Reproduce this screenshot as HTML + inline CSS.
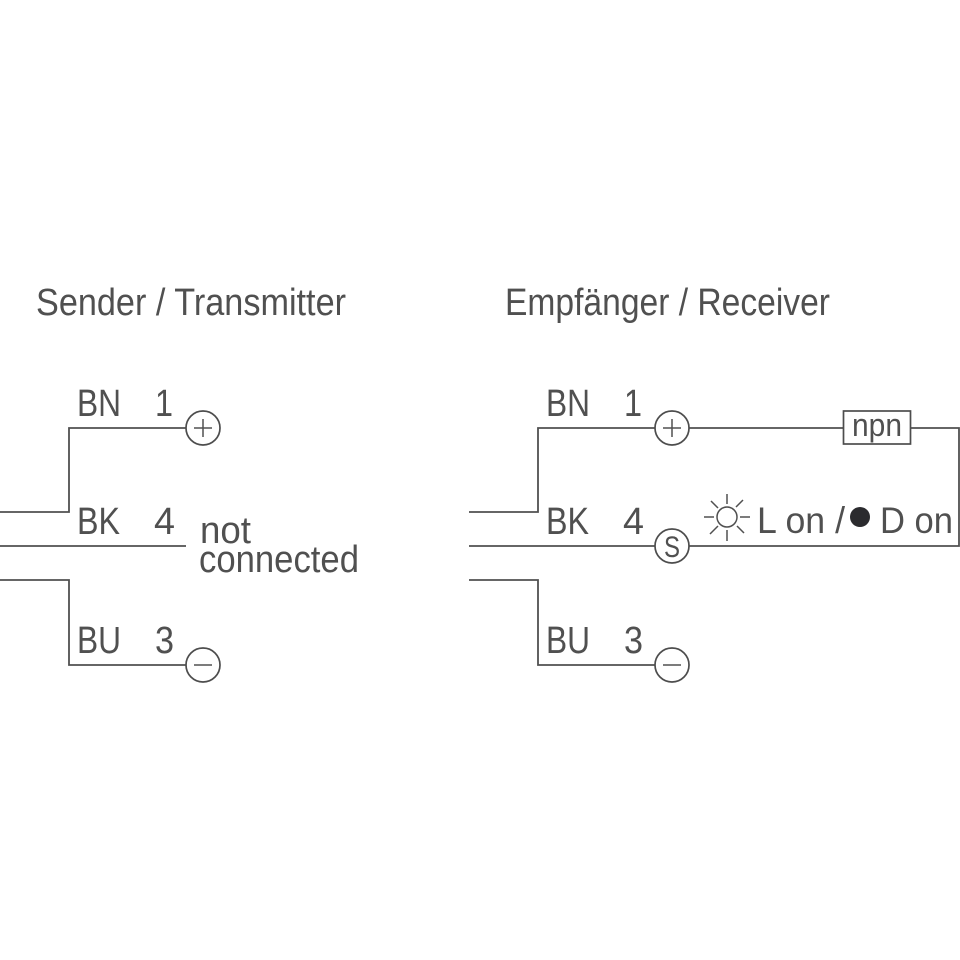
<!DOCTYPE html>
<html>
<head>
<meta charset="utf-8">
<style>
html,body{margin:0;padding:0;background:#fff;width:960px;height:960px;overflow:hidden}
svg{display:block}
text{font-family:"Liberation Sans",sans-serif;fill:#505050;font-weight:400}
.w{fill:none;stroke:#505050;stroke-width:1.8}
.c{fill:#fff;stroke:#4d4d4d;stroke-width:1.7}
.s{fill:none;stroke:#505050;stroke-width:1.5}
</style>
</head>
<body>
<svg width="960" height="960" viewBox="0 0 960 960" xmlns="http://www.w3.org/2000/svg">
<rect width="960" height="960" fill="#fff"/>

<text x="36" y="315" font-size="38" textLength="310" lengthAdjust="spacingAndGlyphs">Sender / Transmitter</text>
<text x="505" y="315" font-size="38" textLength="325" lengthAdjust="spacingAndGlyphs">Empfänger / Receiver</text>

<!-- Left -->
<path class="w" d="M0 512H69V428H186"/>
<path class="w" d="M0 546H186"/>
<path class="w" d="M0 580H69V665H186"/>
<circle class="c" cx="203" cy="428" r="17"/>
<path class="s" d="M194 428H212M203 419V437"/>
<circle class="c" cx="203" cy="665" r="17"/>
<path class="s" d="M194 665H212"/>

<text x="77" y="416" font-size="38" textLength="44" lengthAdjust="spacingAndGlyphs">BN</text>
<text x="155" y="416" font-size="38" textLength="18" lengthAdjust="spacingAndGlyphs">1</text>
<text x="77" y="534" font-size="38" textLength="43" lengthAdjust="spacingAndGlyphs">BK</text>
<text x="154" y="534" font-size="38" textLength="21" lengthAdjust="spacingAndGlyphs">4</text>
<text x="77" y="653" font-size="38" textLength="44" lengthAdjust="spacingAndGlyphs">BU</text>
<text x="155" y="653" font-size="38" textLength="19" lengthAdjust="spacingAndGlyphs">3</text>
<text x="200" y="543" font-size="38" textLength="51" lengthAdjust="spacingAndGlyphs">not</text>
<text x="199" y="572" font-size="38" textLength="160" lengthAdjust="spacingAndGlyphs">connected</text>

<!-- Right -->
<path class="w" d="M469 512H538V428H655"/>
<path class="w" d="M469 546H655"/>
<path class="w" d="M469 580H538V665H655"/>
<path class="w" d="M689 428H843M911 428H959V546H689"/>
<circle class="c" cx="672" cy="428" r="17"/>
<path class="s" d="M663 428H681M672 419V437"/>
<circle class="c" cx="672" cy="546" r="17"/>
<circle class="c" cx="672" cy="665" r="17"/>
<path class="s" d="M663 665H681"/>
<text x="664" y="557" font-size="30" textLength="16" lengthAdjust="spacingAndGlyphs">S</text>

<rect x="843.500" y="411" width="67" height="33" fill="#fff" stroke="#4d4d4d" stroke-width="1.700"/>
<text x="852" y="436" font-size="32" textLength="50" lengthAdjust="spacingAndGlyphs">npn</text>

<text x="546" y="416" font-size="38" textLength="44" lengthAdjust="spacingAndGlyphs">BN</text>
<text x="624" y="416" font-size="38" textLength="18" lengthAdjust="spacingAndGlyphs">1</text>
<text x="546" y="534" font-size="38" textLength="43" lengthAdjust="spacingAndGlyphs">BK</text>
<text x="623" y="534" font-size="38" textLength="21" lengthAdjust="spacingAndGlyphs">4</text>
<text x="546" y="653" font-size="38" textLength="44" lengthAdjust="spacingAndGlyphs">BU</text>
<text x="624" y="653" font-size="38" textLength="19" lengthAdjust="spacingAndGlyphs">3</text>

<!-- Sun -->
<circle class="s" cx="727" cy="517" r="10"/>
<path class="s" d="M727 494V504M727 530V541M704 517H714M740 517H750M711 501L718 508M743 500L736 507M710 534L718 526M744 533L737 526"/>
<text x="757" y="533" font-size="37" textLength="88" lengthAdjust="spacingAndGlyphs">L on /</text>
<circle cx="860" cy="517" r="10" fill="#2b2b2e"/>
<text x="880" y="533" font-size="37" textLength="73" lengthAdjust="spacingAndGlyphs">D on</text>
</svg>
</body>
</html>
